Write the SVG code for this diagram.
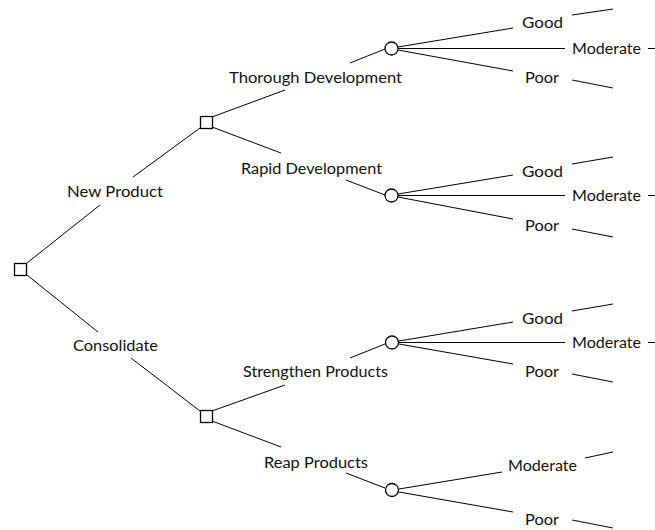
<svg xmlns="http://www.w3.org/2000/svg" width="655" height="530" viewBox="0 0 655 530">
  <style>
    .edge { stroke: #000; stroke-width: 1; fill: none; }
    .decision { fill: #fff; stroke: #000; stroke-width: 1.3; }
    .chance { fill: #fff; stroke: #000; stroke-width: 1.3; }
    text { font-family: "Lato", "Open Sans", "DejaVu Sans", sans-serif; font-size: 14.5px; fill: #111; text-anchor: middle; }
  </style>
  <rect width="655" height="530" fill="#fff"/>

  <!-- branches, split around their labels -->
  <g id="connectors">
    <!-- root -> New Product -> decision -->
    <line class="edge" x1="27" y1="263" x2="100" y2="205"/>
    <line class="edge" x1="133" y1="177" x2="200" y2="128"/>
    <!-- root -> Consolidate -> decision -->
    <line class="edge" x1="27" y1="275" x2="98" y2="332"/>
    <line class="edge" x1="131" y1="358" x2="200" y2="411"/>

    <!-- Thorough Development -->
    <line class="edge" x1="212" y1="117" x2="285" y2="90"/>
    <line class="edge" x1="350" y1="63" x2="385" y2="49"/>
    <!-- Rapid Development -->
    <line class="edge" x1="212" y1="127" x2="281" y2="153"/>
    <line class="edge" x1="346" y1="180" x2="385" y2="195"/>
    <!-- Strengthen Products -->
    <line class="edge" x1="212" y1="411" x2="285" y2="385"/>
    <line class="edge" x1="350" y1="358" x2="385" y2="344"/>
    <!-- Reap Products -->
    <line class="edge" x1="212" y1="421" x2="281" y2="447"/>
    <line class="edge" x1="346" y1="473" x2="385" y2="488"/>

    <!-- outcomes of Thorough Development -->
    <line class="edge" x1="398" y1="47" x2="513" y2="28"/>
    <line class="edge" x1="572" y1="15" x2="613" y2="9"/>
    <line class="edge" x1="398" y1="48.5" x2="565" y2="48.5"/>
    <line class="edge" x1="648" y1="48.5" x2="655" y2="48.5"/>
    <line class="edge" x1="398" y1="50" x2="513" y2="71"/>
    <line class="edge" x1="572" y1="80" x2="613" y2="88"/>

    <!-- outcomes of Rapid Development -->
    <line class="edge" x1="398" y1="194" x2="513" y2="175"/>
    <line class="edge" x1="572" y1="164" x2="613" y2="157"/>
    <line class="edge" x1="398" y1="195.5" x2="565" y2="195.5"/>
    <line class="edge" x1="648" y1="195.5" x2="655" y2="195.5"/>
    <line class="edge" x1="398" y1="197" x2="513" y2="219"/>
    <line class="edge" x1="572" y1="229" x2="613" y2="237"/>

    <!-- outcomes of Strengthen Products -->
    <line class="edge" x1="399" y1="341" x2="513" y2="322"/>
    <line class="edge" x1="572" y1="311" x2="613" y2="304"/>
    <line class="edge" x1="399" y1="342.5" x2="565" y2="342.5"/>
    <line class="edge" x1="648" y1="342.5" x2="655" y2="342.5"/>
    <line class="edge" x1="399" y1="344" x2="513" y2="364"/>
    <line class="edge" x1="572" y1="374" x2="613" y2="382"/>

    <!-- outcomes of Reap Products -->
    <line class="edge" x1="399" y1="489" x2="502" y2="472"/>
    <line class="edge" x1="585" y1="458" x2="613" y2="452"/>
    <line class="edge" x1="399" y1="492" x2="513" y2="512"/>
    <line class="edge" x1="572" y1="520" x2="613" y2="528"/>
  </g>

  <!-- decision nodes -->
  <g id="root"><rect class="decision" x="14.5" y="263.5" width="12" height="12"/></g>
  <g id="new-product"><rect class="decision" x="200.5" y="116.5" width="12" height="12"/>
    <text x="115" y="197" textLength="96" lengthAdjust="spacingAndGlyphs">New Product</text></g>
  <g id="consolidate"><rect class="decision" x="200.5" y="410.5" width="12" height="12"/>
    <text x="115.5" y="351" textLength="85" lengthAdjust="spacingAndGlyphs">Consolidate</text></g>

  <!-- chance nodes -->
  <g id="thorough"><circle class="chance" cx="391.5" cy="48.5" r="6.5"/>
    <text x="315.5" y="83" textLength="173" lengthAdjust="spacingAndGlyphs">Thorough Development</text>
    <text x="542.5" y="28" textLength="41" lengthAdjust="spacingAndGlyphs">Good</text>
    <text x="606.5" y="54" textLength="69" lengthAdjust="spacingAndGlyphs">Moderate</text>
    <text x="542" y="83" textLength="34" lengthAdjust="spacingAndGlyphs">Poor</text></g>
  <g id="rapid"><circle class="chance" cx="391.5" cy="195.5" r="6.5"/>
    <text x="311.5" y="174" textLength="141" lengthAdjust="spacingAndGlyphs">Rapid Development</text>
    <text x="542.5" y="177" textLength="41" lengthAdjust="spacingAndGlyphs">Good</text>
    <text x="606.5" y="201" textLength="69" lengthAdjust="spacingAndGlyphs">Moderate</text>
    <text x="542" y="231" textLength="34" lengthAdjust="spacingAndGlyphs">Poor</text></g>
  <g id="strengthen"><circle class="chance" cx="392" cy="342.5" r="6.5"/>
    <text x="315.5" y="377" textLength="145" lengthAdjust="spacingAndGlyphs">Strengthen Products</text>
    <text x="542.5" y="324" textLength="41" lengthAdjust="spacingAndGlyphs">Good</text>
    <text x="606.5" y="348" textLength="69" lengthAdjust="spacingAndGlyphs">Moderate</text>
    <text x="542" y="377" textLength="34" lengthAdjust="spacingAndGlyphs">Poor</text></g>
  <g id="reap"><circle class="chance" cx="392" cy="490" r="6.5"/>
    <text x="316" y="468" textLength="104" lengthAdjust="spacingAndGlyphs">Reap Products</text>
    <text x="542.5" y="471" textLength="69" lengthAdjust="spacingAndGlyphs">Moderate</text>
    <text x="542" y="525" textLength="34" lengthAdjust="spacingAndGlyphs">Poor</text></g>
</svg>
